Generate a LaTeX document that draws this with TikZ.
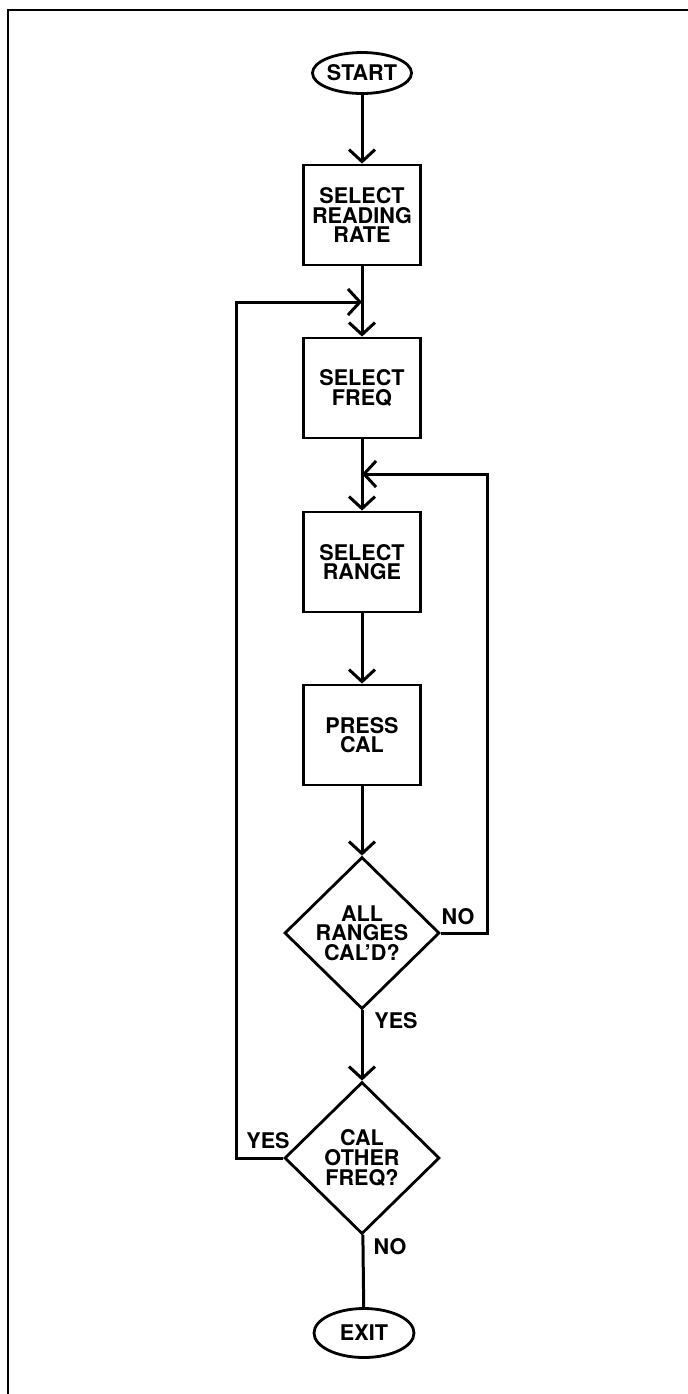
\documentclass[tikz,border=0pt]{standalone}
\usepackage{fontspec}
\setmainfont{TeX Gyre Heros}
\usepackage{tikz}
\usetikzlibrary{arrows.meta,shapes.geometric}

\begin{document}
\begin{tikzpicture}[x=0.5pt,y=-0.5pt,
		line width=1.5pt,
		txt/.style={font=\bfseries\fontsize{10.8}{9.8}\selectfont,align=center},
		term/.style={txt,draw,ellipse,inner sep=0pt,line width=1.4pt},
		stepbox/.style={txt,draw,rectangle,minimum width=58.5pt,minimum height=50pt,inner sep=0pt,line width=1.4pt},
		test/.style={txt,draw,diamond,minimum width=77.5pt,minimum height=76pt,inner sep=0pt,line width=1.4pt},
		flow/.style={-{Straight Barb[length=6pt,width=13pt]}}]
			\useasboundingbox (0,0) rectangle (688,1394);
			
			% Frame
			\draw[line width=1.1pt] (8,1394) -- (8,10) -- (688,10);
			
			% Steps
			\node[term,minimum width=49pt,minimum height=20.5pt] (start) at (362,73) {START};
			\node[stepbox] (rate) at (362,215) {SELECT\\READING\\RATE};
			\node[stepbox] (freq) at (362,388) {SELECT\\FREQ};
			\node[stepbox] (range) at (362,562) {SELECT\\RANGE};
			\node[stepbox] (cal) at (362,735) {PRESS\\CAL};
			\node[test] (allcal) at (362,933) {ALL\\RANGES\\CAL'D?};
			\node[test] (other) at (362,1158) {CAL\\OTHER\\FREQ?};
			\node[term,minimum width=50pt,minimum height=24.5pt] (exit) at (364,1333) {EXIT};
			
			% Join points of the loops
			\coordinate (J1) at (362,302);
			\coordinate (J2) at (362,474);
			
			% Main line
			\draw[flow] (start) -- (rate);
			\draw[flow] (rate) -- (freq);
			\draw[flow] (freq) -- (range);
			\draw[flow] (range) -- (cal);
			\draw[flow] (cal) -- (allcal);
			\draw[flow] (allcal) -- (other);
			\draw (other) -- (exit);
			
			% Loops back
			\draw[flow] (allcal.east) -- (487,933) -- (487,474) -- (J2);
			\draw[flow] (other.west) -- (236,1158) -- (236,302) -- (J1);
			
			% Labels
			\node[txt] at (458,917) {NO};
			\node[txt] at (396,1021) {YES};
			\node[txt] at (268,1141) {YES};
			\node[txt] at (390,1247) {NO};
		\end{tikzpicture}
\end{document}
